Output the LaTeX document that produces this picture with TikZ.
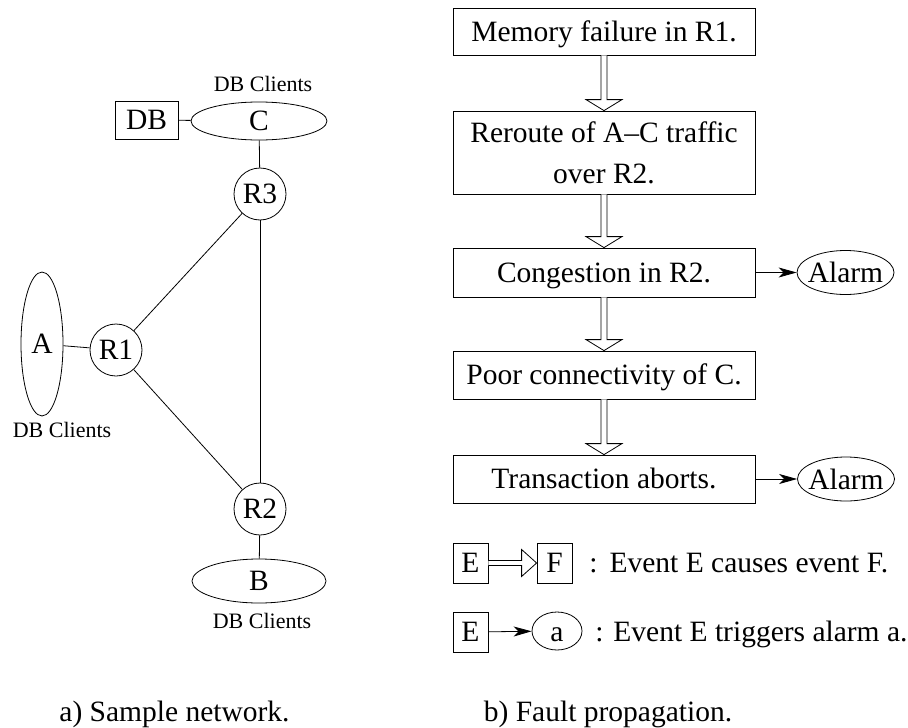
\documentclass[tikz,border=0pt]{standalone}
\usepackage{fontspec}
\setmainfont{Liberation Serif}
\usetikzlibrary{shapes.geometric,arrows.meta,calc}

% hollow "causes" arrow pointing down, from the bottom of one box to the top of the next
\newcommand\causedown[2]{%
  \draw[fill=white] let \p1=(#1.south), \p2=(#2.north) in
    (\x1-3pt,\y1) -- (\x1-3pt,\y2+11pt) -- (\x1-18pt,\y2+11pt) -- (\x1,\y2)
    -- (\x1+18pt,\y2+11pt) -- (\x1+3pt,\y2+11pt) -- (\x1+3pt,\y1);}
% hollow "causes" arrow pointing right (legend)
\newcommand\causeright[2]{%
  \draw[fill=white] let \p1=(#1.east), \p2=(#2.west) in
    (\x1,\y1+2.5pt) -- (\x2-15pt,\y1+2.5pt) -- (\x2-15pt,\y1+13.5pt) -- (\x2,\y1)
    -- (\x2-15pt,\y1-13.5pt) -- (\x2-15pt,\y1-2.5pt) -- (\x1,\y1-2.5pt);}

\begin{document}
\begin{tikzpicture}[x=1pt,y=-1pt,line width=0.8pt,
  every node/.style={font=\fontsize{29.5}{41}\selectfont,inner sep=0pt},
  router/.style={circle,draw,minimum size=52pt},
  hostset/.style={ellipse,draw},
  small/.style={font=\fontsize{22}{26}\selectfont,anchor=base},
  eventbox/.style={rectangle,draw,minimum width=302pt,align=center},
  event/.style={eventbox,text height=19pt,text depth=0pt},
  alarm/.style={ellipse,draw,minimum width=97pt,minimum height=44pt},
  evbox/.style={rectangle,draw,minimum width=35pt,minimum height=40pt},
  trig/.style={-{Stealth[length=18pt,width=10pt,inset=5pt]}},
]
\useasboundingbox (0,0) rectangle (908,728);

% ---- a) sample network ----
\node[router] (R1) at (116,350) {R1};
\node[router] (R2) at (260,509) {R2};
\node[router] (R3) at (260,194) {R3};
\node[hostset,minimum width=42pt,minimum height=144pt] (A) at (42,344) {A};
\node[hostset,minimum width=136pt,minimum height=38pt] (C) at (259,121) {C};
\node[hostset,minimum width=134pt,minimum height=44pt] (B) at (259,581) {B};
\node[draw,minimum width=63pt,minimum height=38pt] (DB) at (146.5,120) {DB};

\node[small] (lc) at (263,91) {DB Clients};
\node[small] (la) at (62,437) {DB Clients};
\node[small] (lb) at (262,628) {DB Clients};

\draw (DB) -- (C);
\draw (C) -- (R3);
\draw (R3) -- (R1);
\draw (R3) -- (R2);
\draw (R1) -- (R2);
\draw (A) -- (R1);
\draw (R2) -- (B);

% ---- b) fault propagation ----
\node[event,minimum height=47pt] (b1) at (604,31.5) {Memory failure in R1.};
\node[eventbox,minimum height=83pt] (b2) at (604,152.5) {Reroute of A–C traffic\\over R2.};
\node[event,minimum height=49pt] (b3) at (604,272.5) {Congestion in R2.};
\node[event,minimum height=48pt] (b4) at (604,375) {Poor connectivity of C.};
\node[event,minimum height=48pt] (b5) at (604,479) {Transaction aborts.};

\node[alarm] (al1) at (845.5,272.5) {\makebox[0pt]{Alarm}};
\node[alarm] (al2) at (846,479) {\makebox[0pt]{Alarm}};

\causedown{b1}{b2}
\causedown{b2}{b3}
\causedown{b3}{b4}
\causedown{b4}{b5}
\draw[trig] (b3) -- (al1);
\draw[trig] (b5) -- (al2);

% ---- legend ----
\node[evbox] (e1) at (470.5,563) {E};
\node[evbox] (f1) at (554.5,563) {F};
\causeright{e1}{f1}
\node[anchor=base west] (t1) at (589,572) {:\hspace{12pt}Event E causes event F.};

\node[evbox] (e2) at (470.5,632) {E};
\node[ellipse,draw,minimum width=50pt,minimum height=38pt,text height=20pt,text depth=0pt] (a2) at (557,631) {\makebox[0pt]{a}};
\draw[trig] (e2) -- (a2);
\node[anchor=base west] (t2) at (595,641) {: Event E triggers alarm a.};

% ---- captions ----
\node[anchor=base] (capa) at (174.5,721) {a) Sample network.};
\node[anchor=base] (capb) at (608,721) {b) Fault propagation.};
\end{tikzpicture}
\end{document}
